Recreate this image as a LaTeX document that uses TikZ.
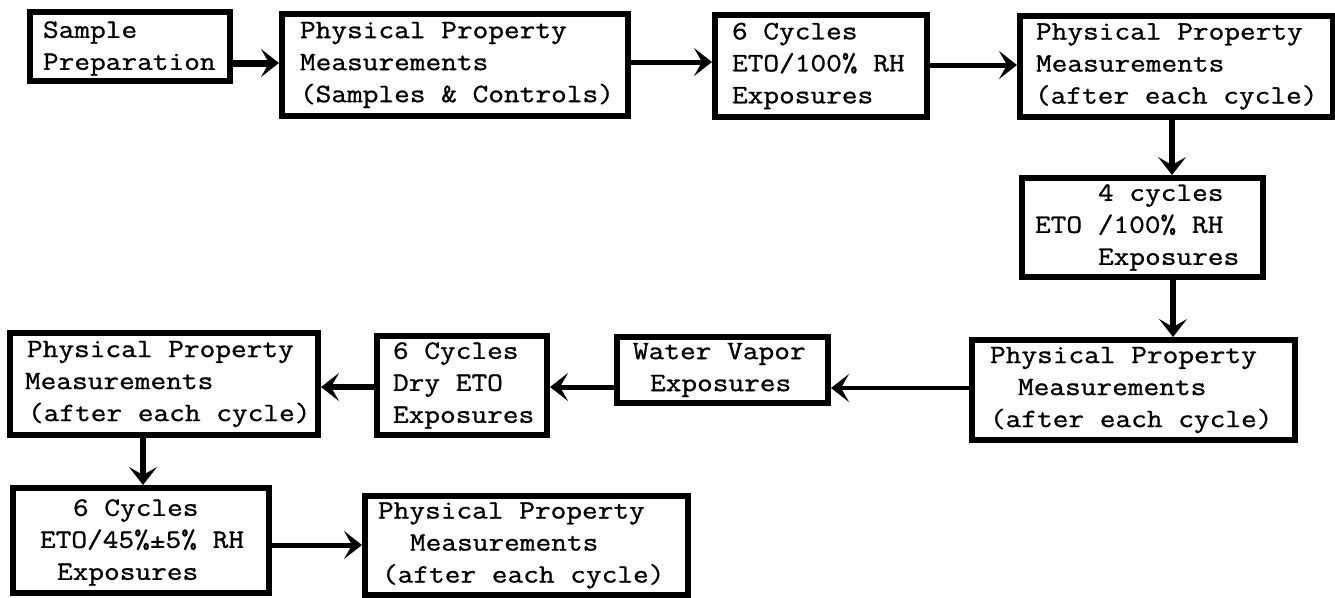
\documentclass[tikz,border=0pt]{standalone}
\usepackage{fontspec}
\newfontfamily\twfont{Latin Modern Mono}[FakeStretch=1.15, FakeBold=1]
\usetikzlibrary{arrows.meta}
\newcommand{\tline}[2]{\hspace*{#1pt}\rlap{#2}\par}
\begin{document}
\begin{tikzpicture}[x=1pt,y=-1pt,
  box/.style={draw, line width=6pt, inner sep=0pt, fill=white,
    font=\twfont\fontsize{26.5}{32}\selectfont},
  arr/.style={line width=5pt, -{Stealth[length=18pt,width=28pt,inset=8pt]}}]
\useasboundingbox (0,0) rectangle (1335,597);
\fill[white] (0,0) rectangle (1335,597);

\node[box, minimum width=200pt, minimum height=69pt] (B1) at (130,46.5)
  {\parbox{200pt}{\vspace*{4pt}\tline{13}{Sample}\tline{13}{Preparation}}};
\node[box, minimum width=346pt, minimum height=102pt] (B2) at (455,65)
  {\parbox{346pt}{\tline{18}{Physical Property}\tline{18}{Measurements}\tline{18}{(Samples \& Controls)}}};
\node[box, minimum width=212pt, minimum height=102pt] (B3) at (821,66)
  {\parbox{212pt}{\tline{17}{6 Cycles}\tline{17}{ETO/100\% RH}\tline{17}{Exposures}}};
\node[box, minimum width=313pt, minimum height=101pt] (B4) at (1176.5,66.5)
  {\parbox{313pt}{\tline{16}{Physical Property}\tline{16}{Measurements}\tline{15}{(after each cycle)}}};
\node[box, minimum width=241pt, minimum height=99pt] (B5) at (1142.5,227.5)
  {\parbox{241pt}{\tline{76}{4 cycles}\tline{13}{ETO /100\% RH}\tline{76}{Exposures}}};
\node[box, minimum width=323pt, minimum height=100pt] (B6) at (1133.5,390)
  {\parbox{323pt}{\tline{18}{Physical Property}\tline{46}{Measurements}\tline{18}{(after each cycle)}}};
\node[box, minimum width=211pt, minimum height=66pt] (B7) at (722.5,370)
  {\parbox{211pt}{\tline{16}{Water Vapor}\tline{33}{Exposures}}};
\node[box, minimum width=170pt, minimum height=99pt] (B8) at (462,385.5)
  {\parbox{170pt}{\tline{16}{6 Cycles}\tline{16}{Dry ETO}\tline{16}{Exposures}}};
\node[box, minimum width=308pt, minimum height=102pt] (B9) at (164,384)
  {\parbox{308pt}{\tline{17}{Physical Property}\tline{15}{Measurements}\tline{18}{(after each cycle)}}};
\node[box, minimum width=256pt, minimum height=105pt] (B10) at (141,540.5)
  {\parbox{256pt}{\vspace*{4pt}\tline{60}{6 Cycles}\tline{27}{ETO/45\%±5\% RH}\tline{44}{Exposures}}};
\node[box, minimum width=323pt, minimum height=99pt] (B11) at (526.5,545.5)
  {\parbox{323pt}{\tline{13}{Physical Property}\tline{45}{Measurements}\tline{17}{(after each cycle)}}};

\draw[arr, line width=7pt] (B1.east |- 0,63) -- (B2.west |- 0,63);
\draw[arr] (B2.east |- 0,62) -- (B3.west |- 0,62);
\draw[arr] (B3.east |- 0,65) -- (B4.west |- 0,65);
\draw[arr, line width=6pt] (B4.south -| 1172,0) -- (B5.north -| 1172,0);
\draw[arr, line width=6pt] (B5.south -| 1173,0) -- (B6.north -| 1173,0);
\draw[arr, line width=4pt] (B6.west |- 0,388) -- (B7.east |- 0,388);
\draw[arr] (B7.west |- 0,387) -- (B8.east |- 0,387);
\draw[arr, line width=6pt] (B8.west |- 0,387) -- (B9.east |- 0,387);
\draw[arr, line width=6pt] (B9.south -| 143,0) -- (B10.north -| 143,0);
\draw[arr] (B10.east |- 0,545) -- (B11.west |- 0,545);
\end{tikzpicture}
\end{document}
